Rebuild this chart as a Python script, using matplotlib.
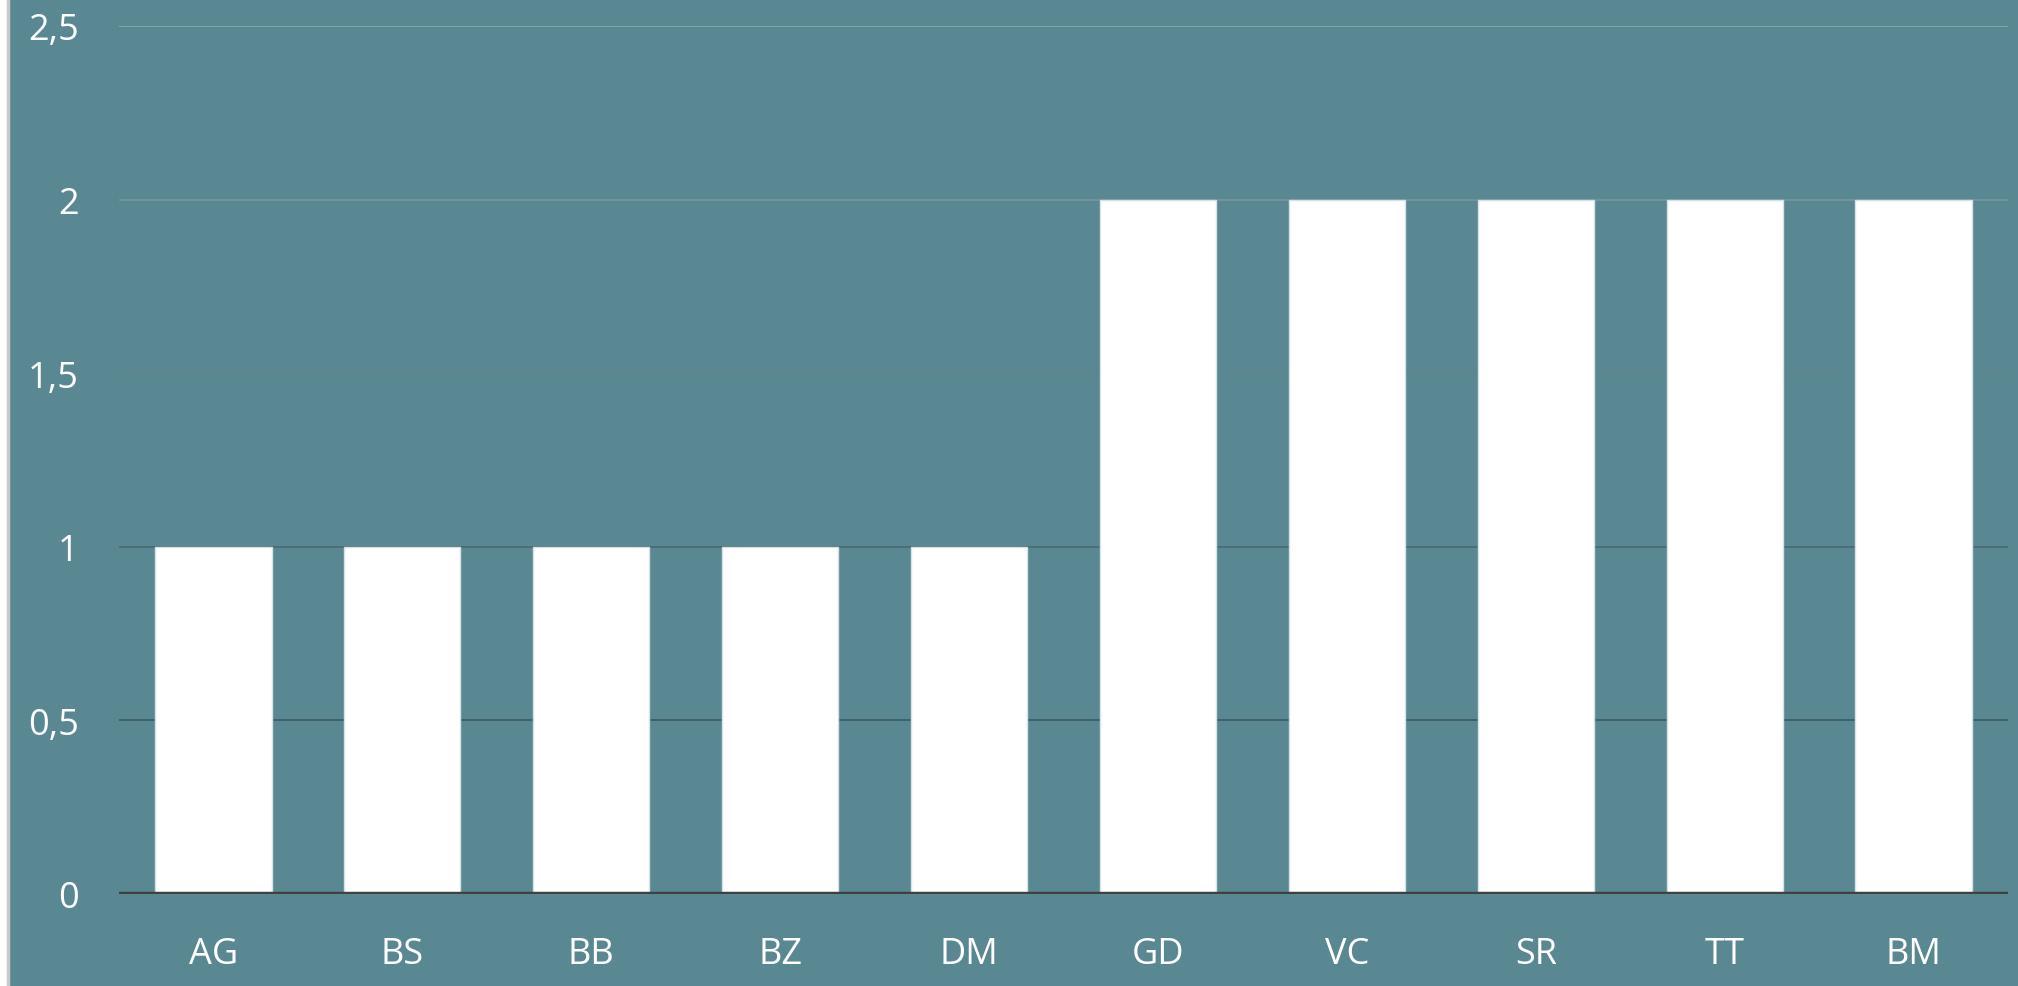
import matplotlib.pyplot as plt
from matplotlib.patches import Rectangle

categories = ['AG', 'BS', 'BB', 'BZ', 'DM', 'GD', 'VC', 'SR', 'TT', 'BM']
values = [1, 1, 1, 1, 1, 2, 2, 2, 2, 2]
yticks = [0, 0.5, 1, 1.5, 2, 2.5]
ytick_labels = ['0', '0,5', '1', '1,5', '2', '2,5']
# gridlines fade from light at the top to dark near the baseline
grid_colors = {0.5: '#3f5f67', 1: '#4c6c74', 1.5: '#62838b', 2: '#76959c', 2.5: '#8aa7ae'}

bg = '#598892'

plt.rcParams['font.family'] = ['Open Sans', 'DejaVu Sans']

fig = plt.figure(figsize=(20.18, 9.87), dpi=100)
fig.patch.set_facecolor(bg)
# white strip with a thin grey border on the far left
fig.patches.append(Rectangle((0, 0), 8 / 2018, 1, transform=fig.transFigure,
                             facecolor='white', edgecolor='none', zorder=-10))
fig.lines.append(plt.Line2D([8 / 2018, 8 / 2018], [0, 1], transform=fig.transFigure,
                            color='#c8c8c8', lw=2.5, zorder=-9))

ax = fig.add_axes([119 / 2018, 1 - 895 / 987, (2008 - 119) / 2018, (895 - 27) / 987])
ax.set_facecolor(bg)

x = list(range(len(categories)))
ax.bar(x, values, width=0.615, color='white', edgecolor='#d6e2e5', linewidth=1, zorder=3)

for y, c in grid_colors.items():
    ax.axhline(y, color=c, lw=1.3, zorder=1)
ax.axhline(0, color='#404040', lw=3.2, zorder=4)

ax.set_xlim(-0.5, len(categories) - 0.5)
ax.set_ylim(0, 2.5)
ax.set_xticks(x)
ax.set_xticklabels(categories)
ax.set_yticks(yticks)
ax.set_yticklabels(ytick_labels)
ax.tick_params(axis='both', length=0, colors='white', labelsize=26)
ax.tick_params(axis='x', pad=30)
ax.tick_params(axis='y', pad=29)
for s in ax.spines.values():
    s.set_visible(False)

fig.savefig('out.png', dpi=100, facecolor=fig.get_facecolor())
